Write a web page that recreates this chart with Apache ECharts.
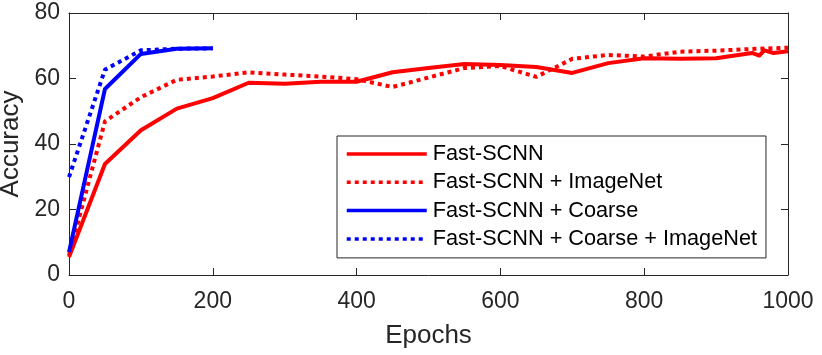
<!DOCTYPE html>
<html><head><meta charset="utf-8">
<script src="https://cdn.jsdelivr.net/npm/echarts@6/dist/echarts.min.js"></script>
<style>html,body{margin:0;padding:0;background:#fff}#c{width:822px;height:355px}</style>
</head><body><div id="c"></div>
<script>
const xTicks = [0, 200, 400, 600, 800, 1000];
const yTicks = [0, 20, 40, 60, 80];

const fastEpochs = [0,50,100,150,200,250,300,350,400,450,500,550,600,650,700,750,800,850,900,950,960,967,980,1000];
const fastAcc    = [5.5,33.9,44.2,50.8,54.0,58.7,58.4,59.0,59.0,61.9,63.2,64.4,64.1,63.5,61.7,64.7,66.2,66.0,66.2,67.8,67.0,68.6,67.8,68.3];

const imgEpochs = [0,50,100,150,200,250,300,350,400,450,500,550,600,650,700,750,800,850,900,950,1000];
const imgAcc    = [6.0,46.9,54.3,59.6,60.6,61.9,61.2,60.6,59.8,57.4,60.3,63.2,63.8,60.5,66.0,67.2,66.7,68.2,68.5,69.0,69.4];

const coarseEpochs = [0,50,100,150,200];
const coarseAcc    = [7.0,56.8,67.5,69.1,69.2];

const coarseImgEpochs = [0,50,100,150,200];
const coarseImgAcc    = [29.9,62.7,68.6,69.1,69.2];

const names = ['Fast-SCNN','Fast-SCNN + ImageNet','Fast-SCNN + Coarse','Fast-SCNN + Coarse + ImageNet'];

const pairs = (xs, ys) => xs.map((x, i) => [x, ys[i]]);
const FONT = '"Liberation Sans", Arial, Helvetica, sans-serif';
const AX = '#262626';
const DOT = [4, 4];

function mkX(pos, show) {
  return {
    type: 'value', position: pos, min: xTicks[0], max: xTicks[xTicks.length-1], interval: xTicks[1]-xTicks[0],
    axisLine: {show: true, onZero: false, lineStyle: {color: AX, width: 1}},
    axisTick: {show: true, inside: true, length: 7, lineStyle: {color: AX}},
    axisLabel: {show: show, margin: 15, color: AX, fontSize: 23, fontFamily: FONT, formatter: v => String(v)},
    splitLine: {show: false},
    name: show ? 'Epochs' : '', nameLocation: 'middle', nameGap: 48,
    nameTextStyle: {fontSize: 26, color: AX, fontFamily: FONT}
  };
}
function mkY(pos, show) {
  return {
    type: 'value', position: pos, min: yTicks[0], max: yTicks[yTicks.length-1], interval: yTicks[1]-yTicks[0],
    axisLine: {show: true, onZero: false, lineStyle: {color: AX, width: 1}},
    axisTick: {show: true, inside: true, length: 7, lineStyle: {color: AX}},
    axisLabel: {show: show, margin: 9, color: AX, fontSize: 23, fontFamily: FONT, formatter: v => String(v)},
    splitLine: {show: false},
    name: show ? 'Accuracy' : '', nameLocation: 'middle', nameGap: 42,
    nameTextStyle: {fontSize: 26, color: AX, fontFamily: FONT}
  };
}
function line(name, data, color, dashed) {
  return {
    name: name, type: 'line', data: data, xAxisIndex: 0, yAxisIndex: 0,
    showSymbol: false, symbol: 'none', animation: false,
    lineStyle: {color: color, width: 4, type: dashed ? DOT : 'solid', cap: 'butt', join: 'round'},
    itemStyle: {color: color}
  };
}

const chart = echarts.init(document.getElementById('c'), null, {renderer: 'canvas'});
chart.setOption({
  animation: false,
  backgroundColor: '#fff',
  grid: {left: 69, right: 34, top: 13, bottom: 80, containLabel: false, outerBoundsMode: 'none'},
  xAxis: [mkX('bottom', true), mkX('top', false)],
  yAxis: [mkY('left', true), mkY('right', false)],
  legend: {
    orient: 'vertical', left: 337, top: 136,
    padding: [7, 9, 8, 8], itemGap: 6.3, itemWidth: 80, itemHeight: 14,
    backgroundColor: '#fff', borderColor: AX, borderWidth: 1,
    itemStyle: {opacity: 0},
    lineStyle: {width: 3.5, cap: 'butt'},
    textStyle: {fontSize: 21.7, color: '#000', fontFamily: FONT, padding: [0, 0, 0, 1]},
    data: names
  },
  series: [
    line(names[0], pairs(fastEpochs, fastAcc), '#ff0000', false),
    line(names[1], pairs(imgEpochs, imgAcc), '#ff0000', true),
    line(names[2], pairs(coarseEpochs, coarseAcc), '#0000ff', false),
    line(names[3], pairs(coarseImgEpochs, coarseImgAcc), '#0000ff', true)
  ]
});
</script></body></html>
